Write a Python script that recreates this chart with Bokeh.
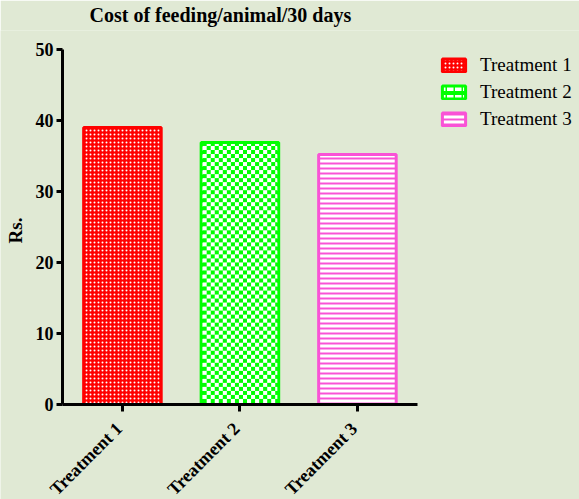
from math import pi

import numpy as np
from bokeh.plotting import figure
from bokeh.models import Range1d, FixedTicker, Legend, LegendItem, Title, Label
from bokeh.embed import file_html
from bokeh.resources import INLINE

# --- data -------------------------------------------------------------
treatments = ["Treatment 1", "Treatment 2", "Treatment 3"]
cost_rs = [39.0, 36.9, 35.2]
y_ticks = [0, 10, 20, 30, 40, 50]

# --- styling ------------------------------------------------------------
bar_colors = ["#ff0000", "#00ff00", "#f953d6"]
BG = "#e0e9d4"
SERIF = "Liberation Serif"
BAR_WIDTH = 0.66
LINE_W = 3

positions = list(range(1, len(treatments) + 1))

hatches = [
    dict(fill_color=bar_colors[0], hatch_color="#ffffff", hatch_scale=4, hatch_weight=2,
         hatch_pattern="dot"),
    dict(fill_color=bar_colors[1], hatch_color="#ffffff", hatch_scale=8, hatch_weight=4,
         hatch_pattern="horizontal_dash"),
    dict(fill_color="#ffffff", hatch_color=bar_colors[2], hatch_scale=5, hatch_weight=2,
         hatch_pattern="horizontal_line"),
]

# Frame geometry (px).  The frame fills the canvas below the title, so the
# legend, the axis labels and the rotated category labels all sit inside it;
# both axes are pinned at the data origin and bounded to the data region.
W, H = 579, 499
TOP = 30                     # height of the title strip
AXIS_X = 62                  # px from the left edge to the value axis
AXIS_TOP = 49                # px from the top edge to the value 50
FRAME_W, FRAME_H = W, H - TOP
PX_X = 117.5                 # px per category step
PX_Y = 7.1                   # px per rupee
X_AXIS = 0.49                # category coordinate of the value axis
X_END = 3.51                 # end of the category axis
X0 = X_AXIS - AXIS_X / PX_X
X1 = X0 + FRAME_W / PX_X
Y_MAX = 50
Y1 = Y_MAX + (AXIS_TOP - TOP) / PX_Y
Y0 = Y1 - FRAME_H / PX_Y     # below zero: room for the category labels

p = figure(
    width=W, height=H,
    x_range=Range1d(X0, X1), y_range=Range1d(Y0, Y1),
    output_backend="svg", toolbar_location=None, title=None,
    min_border_left=0, min_border_right=0, min_border_top=TOP, min_border_bottom=0,
    background_fill_color=BG, border_fill_color=BG, outline_line_color=None,
)

# thin spacer nearest the frame, then the visible title above it
p.add_layout(Title(text=" ", text_font_size="1px", standoff=2), "above")
p.add_layout(Title(text="Cost of feeding/animal/30 days", text_font=SERIF, text_font_style="bold",
                   text_font_size="20px", text_color="#000000", align="left", offset=89,
                   standoff=0), "above")

items = []
for x, name, val, col, h in zip(positions, treatments, cost_rs, bar_colors, hatches):
    r = p.vbar(x=[x], top=[val], width=BAR_WIDTH, line_color=col, line_width=LINE_W, **h)
    items.append(LegendItem(label=name, renderers=[r]))

# checkerboard fill for the second bar, laid inside its outline
dx, dy = (LINE_W / 2) / PX_X, (LINE_W / 2) / PX_Y
x2, v2 = positions[1], cost_rs[1]
nx = int(round((BAR_WIDTH - 2 * dx) * PX_X))
ny = int(round((v2 - 2 * dy) * PX_Y))
jj, ii = np.meshgrid(np.arange(nx), np.arange(ny))
check = ((ii // 4 + jj // 4) % 2 == 0)
rgba = np.zeros((ny, nx), dtype=np.uint32)
view = rgba.view(dtype=np.uint8).reshape((ny, nx, 4))
view[..., 0] = np.where(check, 0, 255)
view[..., 1] = 255
view[..., 2] = np.where(check, 0, 255)
view[..., 3] = 255
p.image_rgba(image=[rgba], x=x2 - BAR_WIDTH / 2 + dx, y=dy,
             dw=BAR_WIDTH - 2 * dx, dh=v2 - 2 * dy)

# legend box: bottom-left corner in px from the frame's bottom-left
legend = Legend(
    items=items, location=(439, H - 130), padding=0, spacing=5, margin=0,
    glyph_width=29, glyph_height=16, label_standoff=12,
    label_text_font=SERIF, label_text_font_size="19px", label_text_color="#000000",
    background_fill_alpha=0, border_line_color=None,
)
p.add_layout(legend, "center")

# value-axis title
p.add_layout(Label(x=15, y=H - 230, x_units="screen", y_units="screen", text="Rs.",
                   angle=pi / 2, text_align="center", text_baseline="middle",
                   text_font=SERIF, text_font_style="bold", text_font_size="19px",
                   text_color="#000000"))

p.xgrid.visible = False
p.ygrid.visible = False

for ax in (p.xaxis[0], p.yaxis[0]):
    ax.axis_line_width = 3
    ax.major_tick_line_width = 3
    ax.major_tick_in = 0
    ax.minor_tick_line_color = None
    ax.major_label_text_font = SERIF
    ax.major_label_text_font_style = "bold"
    ax.major_label_text_color = "#000000"

p.yaxis.fixed_location = X_AXIS
p.yaxis.bounds = (0, Y_MAX)
p.yaxis.ticker = FixedTicker(ticks=y_ticks)
p.yaxis.major_tick_out = 6
p.yaxis.major_label_standoff = 3
p.yaxis.major_label_text_font_size = "18px"

# category axis pinned at zero; rotated labels, with a little trailing
# padding pulling each one left of its tick
p.xaxis.fixed_location = 0
p.xaxis.bounds = (X_AXIS, X_END)
p.xaxis.ticker = FixedTicker(ticks=positions)
p.xaxis.major_tick_out = 7
p.xaxis.major_label_orientation = pi / 4
p.xaxis.major_label_standoff = 11
p.xaxis.major_label_text_font_size = "18px"
p.xaxis.major_label_overrides = {x: t + "\u00a0" for x, t in zip(positions, treatments)}

open("out.html", "w").write(file_html(p, INLINE))
